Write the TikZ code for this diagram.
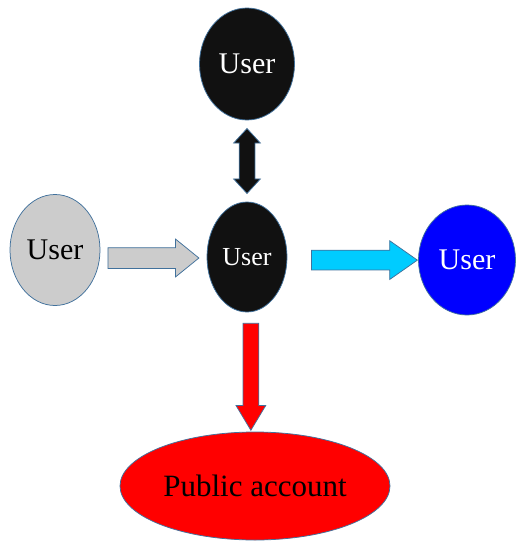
\documentclass[tikz,border=0pt]{standalone}
\usepackage{fontspec}
\setmainfont{Liberation Serif}
\usetikzlibrary{shapes.geometric,shapes.arrows}

\tikzset{every picture/.style={line width=0.75pt}}
\tikzset{
  user/.style={ellipse, draw={rgb, 255:red, 65; green, 113; blue, 156 }, inner sep=0pt,
    font=\fontsize{30}{36}\selectfont},
  blockarrow/.style={single arrow, draw={rgb, 255:red, 65; green, 113; blue, 156 },
    minimum width=0pt, single arrow head indent=0pt},
  twinarrow/.style={double arrow, draw={rgb, 255:red, 65; green, 113; blue, 156 },
    minimum width=0pt, double arrow head indent=0pt}
}

\begin{document}
\begin{tikzpicture}[x=1pt,y=1pt,yscale=-1,xscale=1]
        \path [use as bounding box] (0,0) rectangle (516,542);

        %Shape: Ellipse (top)
        \node [user, fill={rgb, 255:red, 17; green, 17; blue, 17 }, text=white, minimum width=95pt, minimum height=112pt] (topuser) at (247,64) {User};
        %Shape: Ellipse (middle)
        \node [user, fill={rgb, 255:red, 17; green, 17; blue, 17 }, text=white, minimum width=80pt, minimum height=110pt, font=\fontsize{26}{31}\selectfont] (hub) at (247,257) {User};
        %Shape: Ellipse (left)
        \node [user, fill={rgb, 255:red, 204; green, 204; blue, 204 }, text=black, minimum width=90pt, minimum height=111pt] (guest) at (55,250) {User};
        %Shape: Ellipse (right)
        \node [user, fill={rgb, 255:red, 0; green, 0; blue, 255 }, text=white, minimum width=97pt, minimum height=110pt] (peer) at (467,260) {User};
        %Shape: Ellipse (bottom)
        \node [user, fill={rgb, 255:red, 255; green, 0; blue, 0 }, text=black, minimum width=270pt, minimum height=108pt, font=\fontsize{31}{37}\selectfont] (account) at (255,486) {Public account};

        %Up Down Arrow
        \path (topuser.south) -- (hub.north) node [midway, twinarrow, fill={rgb, 255:red, 17; green, 17; blue, 17 }, shape border rotate=90, inner xsep=7.5pt, inner ysep=0pt, minimum height=65pt, double arrow head extend=5.5pt, double arrow tip angle=85] (linkup) {};
        %Right Arrow (grey)
        \path (guest.east) -- (hub.west) node [midway, xshift=-6.5pt, yshift=-4.5pt, blockarrow, fill={rgb, 255:red, 204; green, 204; blue, 204 }, inner xsep=0pt, inner ysep=10pt, minimum height=91pt, single arrow head extend=8.5pt, single arrow tip angle=78] (linkin) {};
        %Right Arrow (cyan)
        \path (hub.east) -- (peer.west) node [pos=0.535, yshift=-1.5pt, blockarrow, fill={rgb, 255:red, 0; green, 204; blue, 255 }, inner xsep=0pt, inner ysep=9.5pt, minimum height=106pt, single arrow head extend=9.5pt, single arrow tip angle=70] (linkout) {};
        %Down Arrow (red)
        \path (hub.south) -- (account.north) node [pos=0.485, blockarrow, fill={rgb, 255:red, 255; green, 0; blue, 0 }, shape border rotate=270, inner xsep=7.5pt, inner ysep=0pt, minimum height=107pt, single arrow head extend=7pt, single arrow tip angle=62] (linkdown) {};

    \end{tikzpicture}
\end{document}
